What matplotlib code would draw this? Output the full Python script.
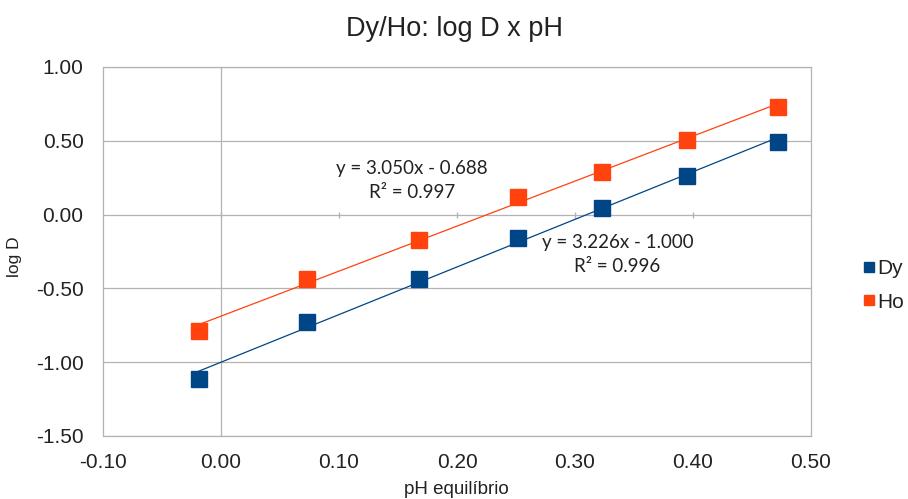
import numpy as np
import matplotlib
matplotlib.use("Agg")
import matplotlib.pyplot as plt

# pH equilibrium vs log D for Dy and Ho
ph_dy = [-0.019, 0.073, 0.168, 0.252, 0.323, 0.395, 0.472]
logd_dy = [-1.116, -0.726, -0.438, -0.161, 0.043, 0.264, 0.494]
ph_ho = [-0.019, 0.073, 0.168, 0.252, 0.323, 0.395, 0.472]
logd_ho = [-0.786, -0.438, -0.172, 0.121, 0.291, 0.505, 0.731]

# linear trendlines (slope, intercept, r2)
fit_dy = (3.226, -1.000, 0.996)
fit_ho = (3.050, -0.688, 0.997)

x_ticks = [-0.10, 0.00, 0.10, 0.20, 0.30, 0.40, 0.50]
y_ticks = [-1.50, -1.00, -0.50, 0.00, 0.50, 1.00]

DY_COLOR = "#004586"
HO_COLOR = "#ff420e"
GRID = "#b3b3b3"

plt.rcParams["font.family"] = ["Liberation Sans", "DejaVu Sans"]

W, H = 908, 499
fig = plt.figure(figsize=(W / 100, H / 100), dpi=100)
ax = fig.add_axes([103 / W, 1 - 436 / H, (811 - 103) / W, (436 - 67) / H])

ax.set_xlim(x_ticks[0], x_ticks[-1])
ax.set_ylim(y_ticks[0], y_ticks[-1])
ax.set_xticks(x_ticks)
ax.set_yticks(y_ticks)
ax.set_xticklabels([f"{v:.2f}" for v in x_ticks], fontsize=15)
ax.set_yticklabels([f"{v:.2f}" for v in y_ticks], fontsize=15)
ax.tick_params(axis="x", length=0, pad=12, colors="#222222")
ax.tick_params(axis="y", length=0, pad=14, colors="#222222")

ax.yaxis.grid(True, color=GRID, linewidth=0.9)
ax.set_axisbelow(True)
for side in ["top", "right", "bottom", "left"]:
    ax.spines[side].set_color(GRID)
    ax.spines[side].set_linewidth(0.9)

# axes crossing at the origin
ax.axvline(0, color=GRID, linewidth=0.9, zorder=0)
ax.plot(x_ticks[1:-1], np.zeros(len(x_ticks) - 2), linestyle="none",
        marker="|", markersize=4, color=GRID, zorder=0)

for ph, logd, fit, color, name in [
    (ph_dy, logd_dy, fit_dy, DY_COLOR, "Dy"),
    (ph_ho, logd_ho, fit_ho, HO_COLOR, "Ho"),
]:
    xs = np.array([min(ph), max(ph)])
    ax.plot(xs, fit[0] * xs + fit[1], color=color, linewidth=0.9, zorder=2)
    ax.plot(ph, logd, linestyle="none", marker="s", markersize=11.5,
            color=color, label=name, zorder=3)

txt_font = ["Lato", "DejaVu Sans"]
ax.text(0.162, 0.234, f"y = {fit_ho[0]:.3f}x - {abs(fit_ho[1]):.3f}\nR² = {fit_ho[2]:.3f}",
        ha="center", va="center", fontsize=13.5, family=txt_font,
        linespacing=1.5, color="#222222")
ax.text(0.336, -0.270, f"y = {fit_dy[0]:.3f}x - {abs(fit_dy[1]):.3f}\nR² = {fit_dy[2]:.3f}",
        ha="center", va="center", fontsize=13.5, family=txt_font,
        linespacing=1.5, color="#222222")

fig.text(455 / W, 1 - 36 / H, "Dy/Ho: log D x pH", ha="center", va="baseline",
         fontsize=19.5, color="#222222")
fig.text(456 / W, 1 - 490 / H, "pH equilíbrio", ha="center", va="center",
         fontsize=13.5, color="#222222")
fig.text(14 / W, 1 - 257 / H, "log D", ha="center", va="center", rotation=90,
         fontsize=12.5, color="#222222")

leg = fig.legend(*ax.get_legend_handles_labels(), loc="upper left",
                 bbox_to_anchor=(862 / W, 1 - 259 / H), frameon=False,
                 fontsize=15, handlelength=0.7, handletextpad=0.05,
                 markerscale=0.65, labelspacing=0.7, borderpad=0,
                 borderaxespad=0)
for t in leg.get_texts():
    t.set_color("#222222")

fig.savefig("out.png", dpi=100)
